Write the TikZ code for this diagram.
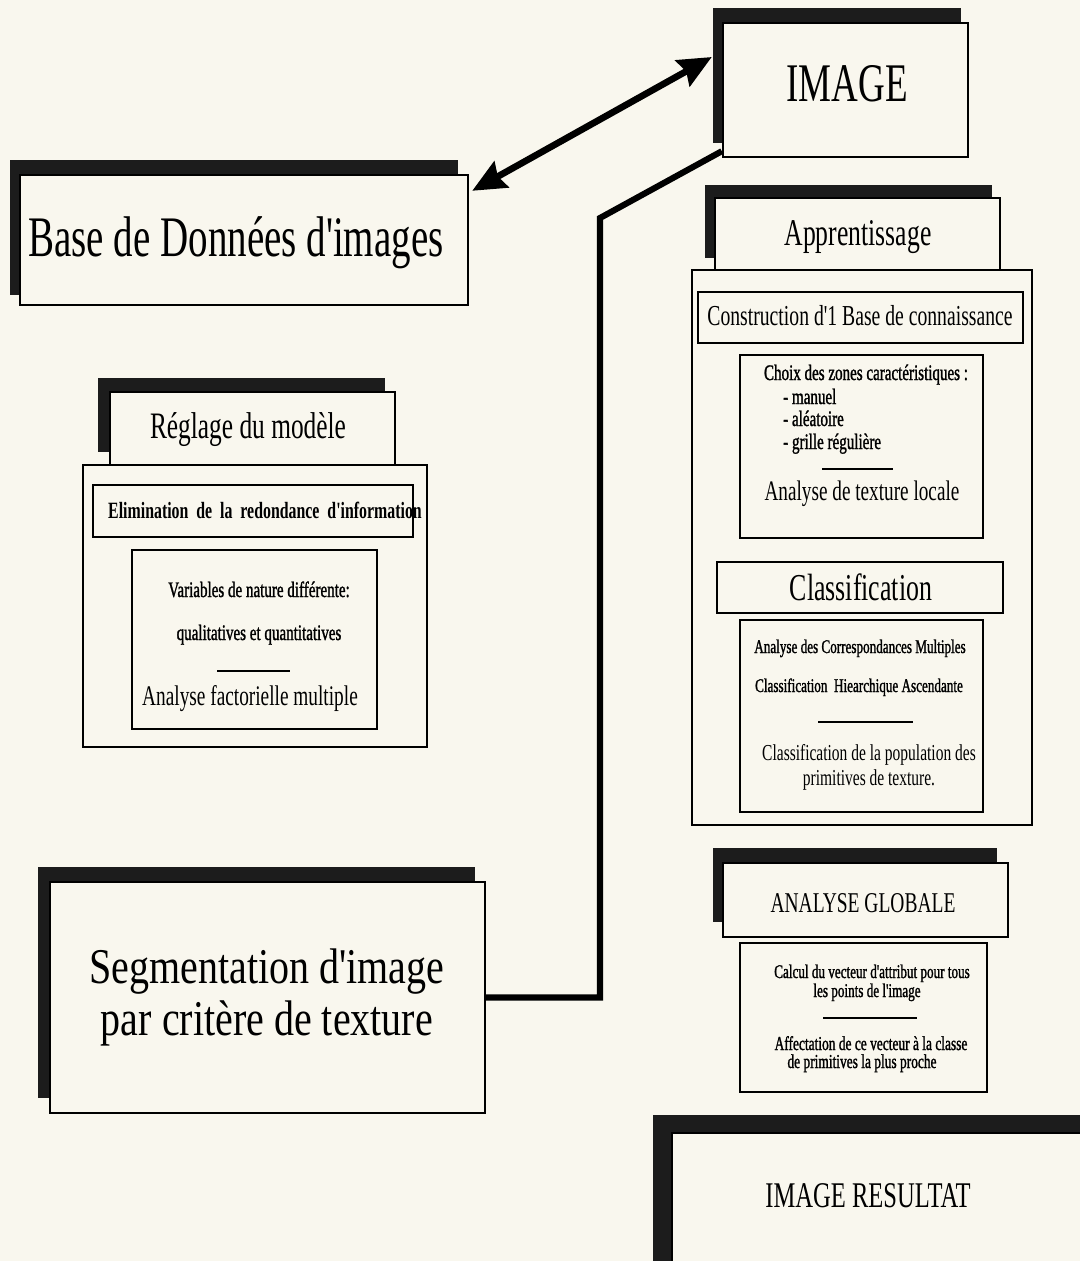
\documentclass[tikz,border=0pt]{standalone}
\usepackage{fontspec}
\setmainfont[FakeStretch=0.68,Ligatures=TeXOff]{Liberation Serif}
\newfontfamily\segfont[FakeStretch=0.8]{Liberation Serif}
\newfontfamily\heavyfont[FakeStretch=0.68,FakeBold=1.2]{Liberation Serif}
\usetikzlibrary{arrows.meta,fit,calc}
\definecolor{paper}{RGB}{249,247,238}
\definecolor{shade}{RGB}{28,28,28}
\newcommand{\fz}[1]{\fontsize{#1}{#1}\selectfont}
\tikzset{
  shadowbox/.style={fill=shade, draw=none},
  frontbox/.style={draw=black, line width=1.8pt, fill=paper, inner sep=0pt},
  plainbox/.style={draw=black, line width=1.7pt, inner sep=0pt},
  lbl/.style={anchor=base, inner sep=0pt, text=black},
  lbll/.style={anchor=base west, inner sep=0pt, text=black},
  sep/.style={line width=2.2pt},
  conn/.style={line width=4.6pt, line join=miter},
  dblarrow/.style={line width=5pt,
    {Stealth[length=25pt,width=22pt,inset=3pt]}-{Stealth[length=25pt,width=22pt,inset=3pt]}}
}
\begin{document}
\begin{tikzpicture}[x=0.75pt,y=-0.75pt]
\useasboundingbox (0,0) rectangle (1080,1261);
\clip (0,0) rectangle (1080,1261);
\fill[paper] (0,0) rectangle (1080,1261);

% IMAGE
\fill[shadowbox] (713,8) rectangle (961,143);
\node[frontbox, fit={(723,23) (968,157)}] (img) {};
\node[lbl, font=\fz{40.8}] (imgt) at (847,101) {IMAGE};

% Base de donnees
\fill[shadowbox] (10,160) rectangle (458,295);
\node[frontbox, fit={(20,175) (468,305)}] (base) {};
\node[lbl, font=\fz{43}] (baset) at (236,256) {Base de Données d'images};

% Reglage du modele
\node[frontbox, fit={(83,465) (427,747)}] (regbig) {};
\fill[shadowbox] (98,378) rectangle (385,452);
\node[frontbox, fit={(110,392) (395,465)}] (regtab) {};
\node[lbl, font=\fz{28}] (regt) at (248,438) {Réglage du modèle};
\node[plainbox, fit={(93,485) (413,537)}] (elim) {};
\node[lbl, font=\fz{17.5}\bfseries] (elimt) at (265,518) {Elimination\ \ de\ \ la\ \ redondance\ \ d'information};
\node[plainbox, fit={(132,550) (377,729)}] (varb) {};
\node[lbl, font=\heavyfont\fz{16.6}] (vart) at (259,597) {Variables de nature différente:};
\node[lbl, font=\heavyfont\fz{16.6}] (qualt) at (259,640) {qualitatives et quantitatives};
\coordinate (r1a) at (217,671); \coordinate (r1b) at (290,671);
\draw[sep] (r1a) -- (r1b);
\node[lbl, font=\fz{21.3}] (afmt) at (250,705) {Analyse factorielle multiple};

% Apprentissage
\node[frontbox, fit={(692,270) (1032,825)}] (appbig) {};
\fill[shadowbox] (705,185) rectangle (992,258);
\node[frontbox, fit={(715,198) (1000,270)}] (apptab) {};
\node[lbl, font=\fz{28.3}] (appt) at (858,245) {Apprentissage};
\node[plainbox, fit={(698,292) (1023,343)}] (constr) {};
\node[lbl, font=\fz{21.7}] (constrt) at (860,325) {Construction d'1 Base de connaissance};
\node[plainbox, fit={(740,355) (983,538)}] (choix) {};
\node[lbl, font=\heavyfont\fz{16.6}] (choixt) at (866,380) {Choix des zones caractéristiques :};
\node[lbll, font=\heavyfont\fz{16.6}] (man) at (783,404) {- manuel};
\node[lbll, font=\heavyfont\fz{16.6}] (alea) at (783,426) {- aléatoire};
\node[lbll, font=\heavyfont\fz{16.6}] (grille) at (783,449) {- grille régulière};
\coordinate (r2a) at (822,469); \coordinate (r2b) at (893,469);
\draw[sep] (r2a) -- (r2b);
\node[lbl, font=\fz{21.2}] (atlt) at (862,500) {Analyse de texture locale};
\node[plainbox, fit={(717,562) (1003,613)}] (classb) {};
\node[lbl, font=\fz{28.5}] (classt) at (861,600) {Classification};
\node[plainbox, fit={(740,620) (983,812)}] (classin) {};
\node[lbl, font=\heavyfont\fz{14.5}] (acmt) at (860,653) {Analyse des Correspondances Multiples};
\node[lbl, font=\heavyfont\fz{14.5}] (chat) at (859,692) {Classification\ \ Hiearchique Ascendante};
\coordinate (r3a) at (818,722); \coordinate (r3b) at (913,722);
\draw[sep] (r3a) -- (r3b);
\node[lbl, font=\fz{17.1}] (cpop) at (869,760) {Classification de la population des};
\node[lbl, font=\fz{17.1}] (cprim) at (869,785) {primitives de texture.};

% Analyse globale
\fill[shadowbox] (713,848) rectangle (997,922);
\node[frontbox, fit={(723,863) (1008,937)}] (ag) {};
\node[lbl, font=\fz{21.5}] (agt) at (863,912) {ANALYSE GLOBALE};
\node[plainbox, fit={(740,943) (987,1092)}] (agin) {};
\node[lbl, font=\heavyfont\fz{14.5}] (calc1) at (872,978) {Calcul du vecteur d'attribut pour tous};
\node[lbl, font=\heavyfont\fz{14.5}] (calc2) at (867,997) {les points de l'image};
\coordinate (r4a) at (823,1018); \coordinate (r4b) at (917,1018);
\draw[sep] (r4a) -- (r4b);
\node[lbl, font=\heavyfont\fz{14.8}] (aff1) at (871,1050) {Affectation de ce vecteur à la classe};
\node[lbl, font=\heavyfont\fz{14.8}] (aff2) at (862,1068) {de primitives la plus proche};

% Segmentation
\fill[shadowbox] (38,867) rectangle (475,1098);
\node[frontbox, fit={(50,882) (485,1113)}] (seg) {};
\node[lbl, font=\segfont\fz{37.5}] (seg1) at (267,983) {Segmentation d'image};
\node[lbl, font=\segfont\fz{37.5}] (seg2) at (267,1035) {par critère de texture};

% Image resultat
\fill[shadowbox] (653,1115) rectangle (1095,1275);
\node[frontbox, fit={(672,1133) (1100,1280)}] (ir) {};
\node[lbl, font=\fz{27.1}] (irt) at (868,1207) {IMAGE RESULTAT};

% connectors
\draw[dblarrow] ($(base.north east)+(3,17)$) -- ($(img.west)+(-10,-33)$);
\coordinate (bend) at (600,218);
\draw[conn] ($(img.south west)+(0,-7)$) -- (bend) |- (seg.east);
\end{tikzpicture}
\end{document}
